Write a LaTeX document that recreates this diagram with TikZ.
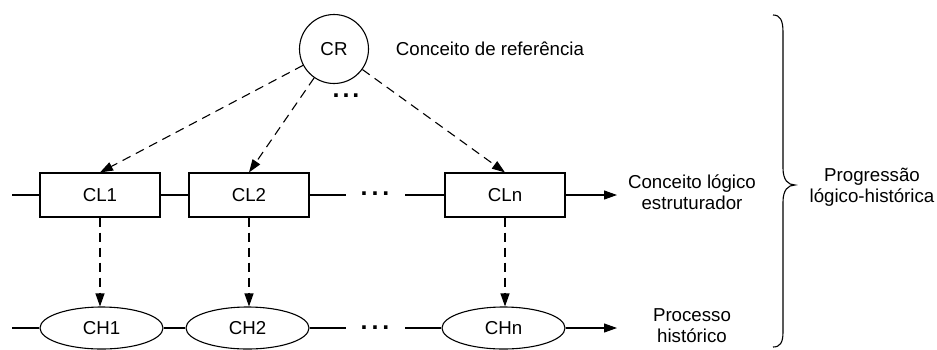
\documentclass[tikz,border=0pt]{standalone}
\usepackage{fontspec}
\setmainfont{Liberation Sans}
\usetikzlibrary{arrows.meta,shapes.geometric}
\begin{document}
\begin{tikzpicture}[x=1pt,y=-1pt,line width=1.1pt,
  every node/.style={font=\fontsize{18.7}{21}\selectfont},
  box/.style={draw,rectangle,minimum width=120pt,minimum height=44pt,inner sep=0pt},
  oval/.style={draw,ellipse,minimum width=123pt,minimum height=42pt,inner sep=0pt},
  ring/.style={draw,circle,minimum size=69pt,inner sep=0pt},
  dsh/.style={dash pattern=on 9pt off 6pt,-{Triangle[length=13pt,width=9pt]}},
  arr/.style={-{Triangle[length=13pt,width=9pt]}},
  lbl/.style={align=center},
  dots/.style={anchor=base,inner sep=0pt,font=\fontsize{25}{25}\selectfont\bfseries}]
\useasboundingbox (0,0) rectangle (937,349);
% top
\node[ring] (CR) at (334,49) {CR};
\node[anchor=west] (crl) at (392,49) {Conceito de referência};
\node[dots] (d0) at (346,97.7) {.\hspace{3pt}.\hspace{3pt}.};
% CL row
\node[box] (CL1) at (100,195) {CL1};
\node[box] (CL2) at (249,195) {CL2};
\node[box] (CLn) at (505,195) {CLn};
\coordinate (l0) at (12,195);
\coordinate (l1) at (346,195);
\coordinate (l2) at (405,195);
\coordinate (l3) at (617,195);
\node[dots] (d1) at (375,195.8) {.\hspace{4pt}.\hspace{4pt}.};
\draw (l0) -- (CL1.west);
\draw (CL1.east) -- (CL2.west);
\draw (CL2.east) -- (l1);
\draw (l2) -- (CLn.west);
\draw[arr] (CLn.east) -- (l3);
\node[lbl] (cll) at (692,192) {Conceito lógico\\estruturador};
% CH row
\node[oval] (CH1) at (101.5,328) {CH1};
\node[oval] (CH2) at (247.5,328) {CH2};
\node[oval] (CHn) at (503.5,328) {CHn};
\coordinate (h0) at (12,328);
\coordinate (h1) at (346,328);
\coordinate (h2) at (405,328);
\coordinate (h3) at (617,328);
\node[dots] (d2) at (375,329.8) {.\hspace{4pt}.\hspace{4pt}.};
\draw (h0) -- (CH1.west);
\draw (CH1.east) -- (CH2.west);
\draw (CH2.east) -- (h1);
\draw (h2) -- (CHn.west);
\draw[arr] (CHn.east) -- (h3);
\node[lbl] (chl) at (692,326) {Processo\\histórico};
% dashed arrows
\draw[dsh] (CR) -- (CL1.north);
\draw[dsh] (CR) -- (CL2.north);
\draw[dsh] (CR) -- (CLn.north);
\draw[dsh] (CL1.south) -- (CL1.south |- CH1.north);
\draw[dsh] (CL2.south) -- (CL2.south |- CH2.north);
\draw[dsh] (CLn.south) -- (CLn.south |- CHn.north);
% brace
\draw (773,15) .. controls (780,15) and (783,20) .. (783,32) -- (783,168)
  .. controls (783,180) and (788,185) .. (795,185)
  .. controls (788,185) and (783,190) .. (783,202) -- (783,332)
  .. controls (783,343) and (780,347) .. (773,347);
\node[lbl] (pl) at (872,187) {Progressão\\lógico-histórica};
\end{tikzpicture}
\end{document}
